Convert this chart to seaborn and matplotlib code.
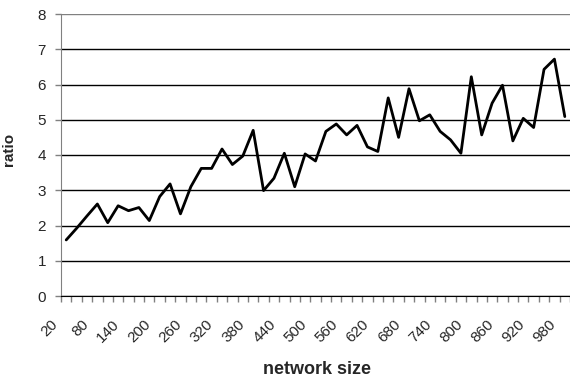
import numpy as np
import pandas as pd
import matplotlib
matplotlib.use("Agg")
import matplotlib.pyplot as plt
import matplotlib.transforms as mtransforms
import seaborn as sns

# network sizes 20..980 step 20
sizes = list(range(20, 1000, 20))
ratio = [1.59, 1.92, 2.27, 2.61, 2.08, 2.56, 2.42, 2.51, 2.14, 2.82,
         3.18, 2.33, 3.10, 3.62, 3.62, 4.17, 3.73, 3.97, 4.70, 2.99,
         3.34, 4.05, 3.10, 4.03, 3.83, 4.67, 4.88, 4.57, 4.84, 4.23,
         4.10, 5.62, 4.50, 5.88, 4.97, 5.14, 4.67, 4.43, 4.05, 6.22,
         4.57, 5.47, 5.98, 4.40, 5.04, 4.78, 6.43, 6.72, 5.09]
y_ticks = [0, 1, 2, 3, 4, 5, 6, 7, 8]

sns.set_style("white")
plt.rcParams['font.family'] = ['Liberation Sans', 'DejaVu Sans']

df = pd.DataFrame({'pos': np.arange(len(sizes)), 'size': sizes, 'ratio': ratio})

fig = plt.figure(figsize=(5.7, 3.8), dpi=100)
ax = fig.add_axes([61 / 570, 84 / 380, 509 / 570, 282 / 380])

for v in y_ticks:
    ax.axhline(v, color='#808080' if v == 8 else 'black', lw=1, zorder=1)

sns.lineplot(data=df, x='pos', y='ratio', color='black', lw=2, ax=ax, zorder=3)

ax.set_xlim(-0.5, -0.5 + 509 / 10.46)
ax.set_ylim(0, 8)
ax.set_yticks(y_ticks)
ax.set_yticklabels([str(v) for v in y_ticks], fontsize=11)

# tick marks between categories, a label on every third category
ax.set_xticks(np.arange(len(sizes) + 1) - 0.5, minor=True)
ax.set_xticks(df['pos'][::3])
ax.set_xticklabels([str(s) for s in df['size'][::3]], rotation=45, ha='right',
                   va='center', rotation_mode='anchor', fontsize=11)
ax.tick_params(axis='x', which='major', length=0, pad=19)
ax.tick_params(axis='x', which='minor', length=4, width=1, color='#808080',
               direction='out', bottom=True)
ax.tick_params(axis='y', length=4.3, width=1, color='#808080', direction='out',
               left=True, pad=6.5)

# nudge rotated labels left (after tick_params, which resets transforms)
shift = mtransforms.ScaledTranslation(-11 / 100, 0, fig.dpi_scale_trans)
for t in ax.xaxis.get_major_ticks():
    t.label1.set_transform(t.label1.get_transform() + shift)

for s in ['top', 'right']:
    ax.spines[s].set_visible(False)
ax.spines['left'].set_color('#808080')
ax.spines['bottom'].set_color('black')

ax.set_xlabel('network size', fontsize=13, fontweight='bold', va='center')
ax.xaxis.set_label_coords((317 - 61) / 509, (296 - 370) / 282)
ax.set_ylabel('ratio', fontsize=11, fontweight='bold', va='center')
ax.yaxis.set_label_coords((9 - 61) / 509, (296 - 149) / 282)

fig.savefig('out.png', dpi=100)
